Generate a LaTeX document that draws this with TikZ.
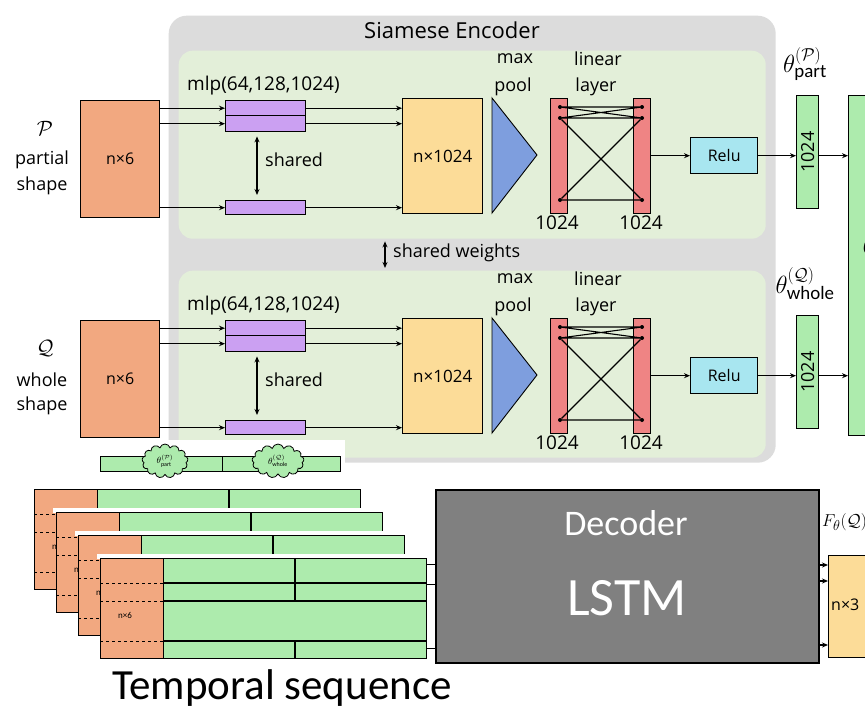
\documentclass[tikz,border=0pt]{standalone}
\usepackage{fontspec}
\setmainfont{Carlito}
\newfontfamily\lblfont{Open Sans}
\usetikzlibrary{arrows.meta,shapes.symbols,calc}
\definecolor{encgray}{HTML}{DCDCDC}
\definecolor{panelgreen}{HTML}{E3EFD9}
\definecolor{orangebox}{HTML}{F2A880}
\definecolor{purplebox}{HTML}{CBA0F2}
\definecolor{yellowbox}{HTML}{FCDC98}
\definecolor{bluetri}{HTML}{7E9EDE}
\definecolor{redbar}{HTML}{EF8484}
\definecolor{relucyan}{HTML}{A8E6F0}
\definecolor{greenbar}{HTML}{ADEBAD}
\definecolor{decgray}{HTML}{808080}
\begin{document}
\begin{tikzpicture}[x=1pt,y=-1pt,
  box/.style={draw, line width=1.4pt, inner sep=0pt, anchor=north west},
  arr/.style={-{Stealth[length=6pt,width=5pt]}, line width=1.1pt},
  darr/.style={{Stealth[length=6pt,width=5pt]}-{Stealth[length=6pt,width=5pt]}, line width=1.3pt},
  lbl/.style={font=\lblfont\fontsize{18}{20}\selectfont, inner sep=0pt},
  sml/.style={font=\lblfont\fontsize{16}{18}\selectfont, inner sep=0pt},
  thin/.style={line width=1.1pt},
  dot/.style={circle, fill=black, inner sep=0pt, minimum size=4pt}]
\useasboundingbox (0,0) rectangle (865,709);
\clip (0,0) rectangle (865,709);
\fill[white] (0,0) rectangle (865,709);

% ---------- Siamese encoder ----------
\node[box, draw=none, fill=encgray, rounded corners=18pt, minimum width=607pt, minimum height=447pt] (enc) at (168,15) {};
\node[font=\lblfont\fontsize{22}{24}\selectfont, inner sep=0pt] (enct) at (452,30) {Siamese Encoder};
\node[box, draw=none, fill=panelgreen, rounded corners=14pt, minimum width=587pt, minimum height=188pt] (panP) at (178,50) {};
\node[box, draw=none, fill=panelgreen, rounded corners=14pt, minimum width=587pt, minimum height=187pt] (panQ) at (178,270) {};
\coordinate (swx) at (385,0);
\draw[darr] ([yshift=-2pt]panP.south -| swx) -- ([yshift=2pt]panQ.north -| swx);
\node[lbl, anchor=west] (swt) at (393,253) {shared weights};

\foreach \r/\dy/\sym/\word/\sub in {P/0/P/partial/part, Q/220/Q/whole/whole}{
  \node[font=\fontsize{22}{24}\selectfont, inner sep=0pt] (sym\r) at (45,128+\dy) {$\mathcal{\sym}$};
  \node[lbl] (wa\r) at (42,160+\dy) {\word};
  \node[lbl] (wb\r) at (42,186+\dy) {shape};
  \node[box, fill=orangebox, minimum width=79pt, minimum height=117pt, sml] (op\r) at (80,100+\dy) {n×6};
  \node[lbl, font=\lblfont\fontsize{19}{21}\selectfont, anchor=west] (mlp\r) at (187,86+\dy) {mlp(64,128,1024)};
  \node[box, fill=purplebox, minimum width=80pt, minimum height=15pt] (pa\r) at (225,100+\dy) {};
  \node[box, fill=purplebox, minimum width=80pt, minimum height=16pt] (pb\r) at (225,115+\dy) {};
  \node[box, fill=purplebox, minimum width=80pt, minimum height=14pt] (pc\r) at (225,200+\dy) {};
  \node[box, fill=yellowbox, minimum width=80pt, minimum height=115pt, sml, font=\lblfont\fontsize{17}{19}\selectfont] (yb\r) at (402,98+\dy) {n×1024};
  \draw[arr] (op\r.east |- pa\r.center) -- (pa\r.west);
  \draw[arr] (op\r.east |- pb\r.center) -- (pb\r.west);
  \draw[arr] (op\r.east |- pc\r.center) -- (pc\r.west);
  \draw[arr] (pa\r.east) -- (yb\r.west |- pa\r.center);
  \draw[arr] (pb\r.east) -- (yb\r.west |- pb\r.center);
  \draw[arr] (pc\r.east) -- (yb\r.west |- pc\r.center);
  \draw[darr] ([xshift=32pt,yshift=-4pt]pb\r.south west) -- ([xshift=32pt,yshift=5pt]pc\r.north west);
  \node[lbl, anchor=west] (sh\r) at (265,160+\dy) {shared};
  % max pool
  \draw[fill=bluetri, line width=0.9pt] (492,98+\dy) -- (537,155+\dy) -- (492,213+\dy) -- cycle;
  \node[lbl] (mx\r) at (515,59+\dy) {max};
  \node[lbl] (pl\r) at (513,87+\dy) {pool};
  % linear layer
  \node[box, fill=redbar, minimum width=17pt, minimum height=115pt] (rl\r) at (550,98+\dy) {};
  \node[box, fill=redbar, minimum width=17pt, minimum height=115pt] (rr\r) at (633,98+\dy) {};
  \node[dot] (d1\r) at (560,107+\dy) {};
  \node[dot] (d2\r) at (560,118+\dy) {};
  \node[dot] (d3\r) at (560,200+\dy) {};
  \node[dot] (e1\r) at (642,107+\dy) {};
  \node[dot] (e2\r) at (642,118+\dy) {};
  \node[dot] (e3\r) at (642,200+\dy) {};
  \draw[thin] (d1\r) -- (e1\r) (d2\r) -- (e2\r) (d1\r) -- (e2\r) (d2\r) -- (e1\r)
              (d2\r) -- (e3\r) (e2\r) -- (d3\r) (d3\r) -- (e3\r);
  \node[lbl] (li\r) at (598,59+\dy) {linear};
  \node[lbl] (la\r) at (596,87+\dy) {layer};
  \node[lbl, font=\lblfont\fontsize{19}{21}\selectfont] (n1\r) at (557,223+\dy) {1024};
  \node[lbl, font=\lblfont\fontsize{19}{21}\selectfont] (n2\r) at (641,223+\dy) {1024};
  % relu and code
  \node[box, fill=relucyan, minimum width=67pt, minimum height=36pt, sml] (re\r) at (690,137+\dy) {Relu};
  \draw[arr] (rr\r.east |- re\r.west) -- (re\r.west);
  \node[box, fill=greenbar, minimum width=22pt, minimum height=113pt] (gs\r) at (796,95+\dy) {};
  \node[sml, font=\lblfont\fontsize{18}{20}\selectfont, rotate=90] at (gs\r.center) {1024};
  \draw[arr] (re\r.east) -- (gs\r.west |- re\r.east);
  \node[font=\fontsize{27}{29}\selectfont, inner sep=0pt] (th\r) at (805,64+\dy) {$\theta^{(\mathcal{\sym})}_{\mathrm{\sub}}$};
}
\node[box, fill=greenbar, minimum width=60pt, minimum height=340pt] (big) at (848,95) {};
\node[font=\fontsize{30}{32}\selectfont, inner sep=0pt] (thb) at (869,245) {$\theta$};
\draw[arr] (gsP.east |- reP.east) -- (big.west |- reP.east);
\draw[arr] (gsQ.east |- reQ.east) -- (big.west |- reQ.east);

% ---------- temporal sequence ----------
\fill[white] (95,440) rectangle (345,484);
\node[box, fill=greenbar, minimum width=240pt, minimum height=15pt, line width=1pt] (tb) at (100,456) {};
\draw[line width=1pt] (222,456) -- (222,471);
\node[cloud, cloud puffs=13, draw, line width=0.8pt, fill=greenbar, minimum width=46pt, minimum height=34pt, inner sep=0pt, font=\fontsize{9}{10}\selectfont] (bP) at (165,461) {$\theta^{(\mathcal{P})}_{\mathrm{part}}$};
\node[cloud, cloud puffs=13, draw, line width=0.8pt, fill=greenbar, minimum width=52pt, minimum height=34pt, inner sep=0pt, font=\fontsize{9}{10}\selectfont] (bQ) at (278,461) {$\theta^{(\mathcal{Q})}_{\mathrm{whole}}$};

\foreach \i in {0,1,2,3}{
  \pgfmathsetmacro\lx{34+22*\i}
  \pgfmathsetmacro\ly{489+23*\i}
  \draw[white, line width=5pt] (\lx-3,\ly-2) -- (\lx+329,\ly-2);
  \node[box, fill=orangebox, minimum width=63pt, minimum height=100pt, line width=1.2pt] (lo\i) at (\lx,\ly) {};
  \node[box, fill=greenbar, minimum width=263pt, minimum height=100pt, line width=1.2pt] (lg\i) at (\lx+63,\ly) {};
  \draw[line width=1.2pt] (\lx+63,\ly+25) -- ++(263,0) (\lx+63,\ly+43) -- ++(263,0) (\lx+63,\ly+83) -- ++(263,0)
        (\lx+195,\ly) -- (\lx+195,\ly+43) (\lx+195,\ly+83) -- (\lx+195,\ly+100);
  \draw[dashed, line width=1pt] (\lx,\ly+25) -- ++(63,0) (\lx,\ly+43) -- ++(63,0) (\lx,\ly+83) -- ++(63,0);
  \node[font=\fontsize{9}{10}\selectfont, inner sep=0pt] (lt\i) at (\lx+25,\ly+57) {n×6};
}

% ---------- decoder ----------
\node[box, fill=decgray, line width=2pt, minimum width=383pt, minimum height=173pt] (dec) at (435,489) {};
\node[font=\fontsize{36}{38}\selectfont, text=white, inner sep=0pt] (dect) at (626,523) {Decoder};
\node[font=\fontsize{54}{56}\selectfont, text=white, inner sep=0pt] (lstm) at (627,598) {LSTM};
\coordinate (s1) at ([yshift=-6pt]lg3.north east);
\coordinate (s2) at ([yshift=-26pt]lg3.north east);
\coordinate (s3) at ([yshift=-90pt]lg3.north east);
\draw[line width=1pt] (s1) -- (dec.west |- s1) (s2) -- (dec.west |- s2) (s3) -- (dec.west |- s3);

\node[box, fill=yellowbox, minimum width=60pt, minimum height=102pt] (yo) at (828,555) {};
\node[sml, anchor=west] (yot) at (831,605) {n×3};
\node[font=\fontsize{19}{21}\selectfont, inner sep=0pt, anchor=west] (fq) at (822,522) {$F_\theta(\mathcal{Q})$};
\coordinate (t1) at (828,565);
\coordinate (t2) at (828,581);
\coordinate (t3) at (828,645);
\draw[arr] (dec.east |- t1) -- (t1);
\draw[arr] (dec.east |- t2) -- (t2);
\draw[arr] (dec.east |- t3) -- (t3);

\node[font=\fontsize{43}{46}\selectfont, inner sep=0pt] (ts) at (282,688) {Temporal sequence};
\end{tikzpicture}
\end{document}
